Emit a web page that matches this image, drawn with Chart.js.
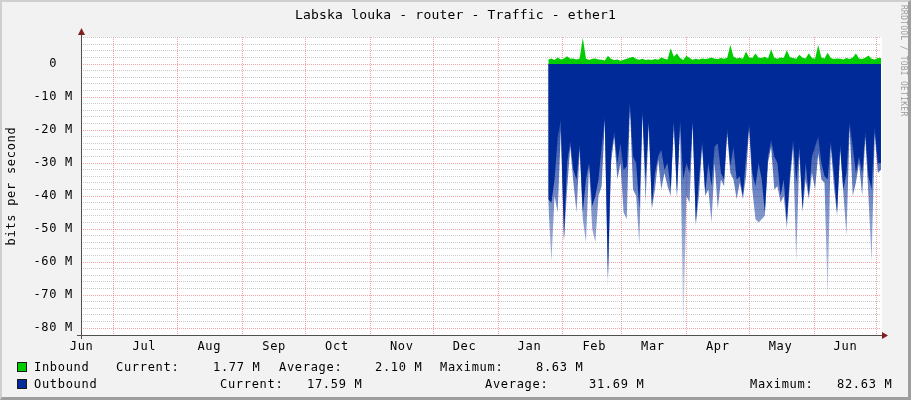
<!DOCTYPE html>
<html>
<head>
<meta charset="utf-8">
<title>Labska louka - router - Traffic - ether1</title>
<script src="https://cdn.jsdelivr.net/npm/chart.js@4.4.0/dist/chart.umd.min.js"></script>
<style>
  html, body { margin: 0; padding: 0; }
  body { width: 911px; height: 400px; position: relative; overflow: hidden; background: #f2f2f2;
         font-family: "DejaVu Sans Mono", monospace; }
  #frame { position: absolute; left: 0; top: 0; width: 911px; height: 400px; box-sizing: border-box;
           border-style: solid; border-width: 2px 3px 3px 2px;
           border-color: #cfcfcf #9e9e9e #9e9e9e #cfcfcf; pointer-events: none; }
  #chart { position: absolute; left: 0; top: 0; }
  .txt { position: absolute; white-space: pre; font-size: 12px; line-height: 14px; letter-spacing: 0.7px; color: #000; }
  .box { position: absolute; left: 17px; width: 8px; height: 8px; border: 1px solid #1a1a1a; }
  #title { left: 0; width: 911px; top: 8px; text-align: center; font-size: 13px; letter-spacing: 0.2px; }
  #ytitle { left: 11px; top: 186px; transform: translate(-50%, -50%) rotate(-90deg); }
  #mark { position: absolute; left: 899px; top: 5px; writing-mode: vertical-rl; font-size: 8px; line-height: 8px;
          letter-spacing: 0.25px; color: #9c9c9c; white-space: pre; }
</style>
</head>
<body>
<canvas id="chart" width="911" height="400"></canvas>
<div id="frame"></div>
<div class="txt" id="title">Labska louka - router - Traffic - ether1</div>
<div class="txt" id="ytitle">bits per second</div>
<div id="mark">RRDTOOL / TOBI OETIKER</div>

<div class="box" style="top:362px;background:#00cc00"></div>
<div class="txt" style="left:34px;top:360px">Inbound</div>
<div class="txt" style="left:116px;top:360px">Current:</div>
<div class="txt" style="left:213px;top:360px">1.77 M</div>
<div class="txt" style="left:279px;top:360px">Average:</div>
<div class="txt" style="left:375px;top:360px">2.10 M</div>
<div class="txt" style="left:440px;top:360px">Maximum:</div>
<div class="txt" style="left:536px;top:360px">8.63 M</div>

<div class="box" style="top:379px;background:#002a97"></div>
<div class="txt" style="left:34px;top:377px">Outbound</div>
<div class="txt" style="left:220px;top:377px">Current:</div>
<div class="txt" style="left:307px;top:377px">17.59 M</div>
<div class="txt" style="left:485px;top:377px">Average:</div>
<div class="txt" style="left:589px;top:377px">31.69 M</div>
<div class="txt" style="left:750px;top:377px">Maximum:</div>
<div class="txt" style="left:837px;top:377px">82.63 M</div>

<script>
// traffic in M bits/s, one sample every 1.5 days, first one on Jan 25
// (x is counted in days after Jul 1)
const sampleStartDay = 208;
const sampleStepDays = 1.5;

const inbound = [
  1.4, 1.7, 1.2, 2.0, 1.4, 1.7, 2.4, 1.6, 1.7, 1.4, 1.7, 8.0, 1.7, 1.2, 1.6, 1.7, 1.4,
  1.3, 1.1, 2.5, 1.5, 1.2, 1.4, 1.0, 1.3, 1.6, 1.9, 2.2, 1.5, 1.3, 1.6, 1.2, 1.4, 1.2,
  1.5, 1.3, 2.0, 1.6, 1.4, 4.8, 2.2, 3.2, 1.8, 1.2, 2.5, 1.8, 1.3, 1.6, 1.4, 1.7, 1.5,
  1.7, 2.0, 1.6, 1.5, 1.8, 1.6, 1.9, 5.8, 2.3, 1.7, 1.9, 1.6, 3.8, 2.0, 1.8, 3.2, 1.9,
  1.8, 2.2, 1.7, 4.5, 1.9, 1.6, 2.0, 1.8, 4.2, 2.1, 1.8, 1.6, 2.8, 1.9, 1.7, 3.3, 1.8,
  1.6, 5.8, 2.0, 1.7, 3.4, 1.8, 1.5, 1.7, 1.6, 1.4, 1.8, 1.5, 2.0, 3.2, 1.7, 1.5, 1.9, 2.6, 1.6, 1.4, 1.8,
  1.8
];

// solid part of the outbound area
const outbound = [
  -41, -42, -35, -22, -17, -53, -30, -23.5, -32, -35, -24.5, -45, -35, -30, -43, -40, -35,
  -25, -16, -65, -27, -20.5, -30, -24, -32, -31, -11.5, -28, -30, -44, -14, -35, -17, -43,
  -33, -28, -26, -32, -30, -38, -17, -39, -17, -35, -30, -33, -17, -48, -35, -23.5, -39,
  -30, -37, -25, -24, -33, -35, -19.5, -31, -25, -35, -34, -40, -28, -18, -33, -37, -30,
  -35, -45, -28, -23, -28, -30, -40, -35, -48, -33, -23, -36, -25, -44, -30, -40, -28,
  -25, -22, -30, -34, -35, -23.5, -33, -45, -24.5, -38, -33, -17.5, -25, -33, -28, -33, -20.5, -34, -38, -19, -30,
  -30
];

// faded peaks below the solid part
const outboundPeak = [
  -42, -60, -40, -45, -20, -54, -38, -25, -36, -45, -26, -47, -54, -31, -50, -54, -40,
  -37, -17, -68, -30, -22, -35, -30, -45, -47, -12, -38, -40, -55, -15, -42, -18, -44,
  -38, -29, -38, -33, -37, -40, -18, -41, -18, -82, -40, -42, -18, -49, -40, -25, -40,
  -38, -48, -30, -44, -35, -37, -21, -33, -35, -41, -36, -41, -34, -19, -38, -47, -48,
  -47, -46, -30, -25, -38, -37, -42, -40, -50, -36, -25, -60, -27, -45, -35, -41, -33,
  -38, -27, -35, -36, -71, -25, -37, -46, -26, -39, -52, -19, -40, -36, -30, -40, -22, -40, -60, -21, -33,
  -32
];

const xLabels = ['Jun', 'Jul', 'Aug', 'Sep', 'Oct', 'Nov', 'Dec', 'Jan', 'Feb', 'Mar', 'Apr', 'May', 'Jun'];
const xLabelDays = [-15, 15, 46, 77, 107, 138, 168, 199, 230, 258, 289, 319, 350];
const monthStartDays = [0, 31, 62, 92, 123, 153, 184, 215, 243, 274, 304, 335, 365];

const yTickValues = [0, -10, -20, -30, -40, -50, -60, -70, -80];
const yTickLabels = ['0  ', '-10 M', '-20 M', '-30 M', '-40 M', '-50 M', '-60 M', '-70 M', '-80 M'];

const xMin = -15.3, xMax = 367.0;
const yMin = -82.1, yMax = 8.2;

function toPoints(arr) {
  return arr.map((v, i) => ({ x: sampleStartDay + i * sampleStepDays, y: v }));
}

function peakFill(c) {
  const chart = c.chart;
  if (!chart.chartArea) return 'rgba(0,42,151,0.5)';
  const y = chart.scales.y;
  const g = chart.ctx.createLinearGradient(0, y.getPixelForValue(-15), 0, y.getPixelForValue(-82));
  g.addColorStop(0, 'rgba(0,42,151,0.85)');
  g.addColorStop(1, 'rgba(0,42,151,0.06)');
  return g;
}

const majorGrid = 'rgba(240,90,90,0.55)';
const minorGrid = 'rgba(150,150,150,0.5)';

const rrdFrame = {
  id: 'rrdFrame',
  beforeDraw(chart) {
    const { ctx, chartArea: a } = chart;
    ctx.save();
    ctx.fillStyle = '#ffffff';
    ctx.fillRect(a.left, a.top, a.right - a.left + 1, a.bottom - a.top);
    ctx.restore();
    ctx.letterSpacing = '0.7px';
  },
  afterDraw(chart) {
    const { ctx, chartArea: a } = chart;
    ctx.save();
    ctx.strokeStyle = '#505050';
    ctx.lineWidth = 1;
    ctx.beginPath();
    ctx.moveTo(a.left + 0.5, a.bottom + 4);
    ctx.lineTo(a.left + 0.5, a.top - 4);
    ctx.moveTo(a.left - 4, a.bottom + 0.5);
    ctx.lineTo(a.right + 2, a.bottom + 0.5);
    ctx.stroke();
    ctx.fillStyle = '#801f1f';
    ctx.beginPath();
    ctx.moveTo(a.left + 0.5, a.top - 9);
    ctx.lineTo(a.left - 3, a.top - 2);
    ctx.lineTo(a.left + 4, a.top - 2);
    ctx.closePath();
    ctx.fill();
    ctx.beginPath();
    ctx.moveTo(a.right + 7, a.bottom + 0.5);
    ctx.lineTo(a.right + 1, a.bottom - 3);
    ctx.lineTo(a.right + 1, a.bottom + 4);
    ctx.closePath();
    ctx.fill();
    ctx.restore();
  }
};

Chart.defaults.font.family = '"DejaVu Sans Mono", monospace';
Chart.defaults.font.size = 12;
Chart.defaults.color = '#000';

const lineStyle = { borderWidth: 0, borderColor: 'rgba(0,0,0,0)', pointRadius: 0, tension: 0, fill: 'origin' };

new Chart(document.getElementById('chart'), {
  type: 'line',
  data: {
    datasets: [
      Object.assign({ label: 'Inbound', data: toPoints(inbound), backgroundColor: '#00cc00' }, lineStyle),
      Object.assign({ label: 'Outbound', data: toPoints(outbound), backgroundColor: '#002a97' }, lineStyle),
      Object.assign({ label: 'Outbound peaks', data: toPoints(outboundPeak), backgroundColor: peakFill }, lineStyle)
    ]
  },
  options: {
    responsive: false,
    animation: false,
    devicePixelRatio: 1,
    layout: { padding: { left: 0, right: 30, top: 37, bottom: 0 } },
    plugins: { legend: { display: false }, tooltip: { enabled: false }, title: { display: false } },
    scales: {
      x: {
        type: 'linear',
        min: xMin,
        max: xMax,
        z: 1,
        afterBuildTicks(s) {
          s.ticks = monthStartDays.concat(xLabelDays).map(v => ({ value: v }));
        },
        afterFit(s) { s.height = 65; },
        grid: {
          drawTicks: false,
          lineWidth: 1,
          color: c => (c.tick && monthStartDays.includes(c.tick.value)) ? majorGrid : 'rgba(0,0,0,0)'
        },
        border: { display: false, dash: [1, 1] },
        ticks: {
          autoSkip: false,
          maxRotation: 0,
          minRotation: 0,
          padding: 5,
          callback: v => {
            const k = xLabelDays.indexOf(v);
            return k >= 0 ? xLabels[k] : '';
          }
        }
      },
      y: {
        type: 'linear',
        min: yMin,
        max: yMax,
        z: 1,
        afterBuildTicks(s) {
          const t = [];
          for (let v = -80; v <= 8; v += 2) t.push({ value: v });
          s.ticks = t;
        },
        afterFit(s) { s.width = 81; },
        grid: {
          drawTicks: false,
          lineWidth: 1,
          color: c => (c.tick && c.tick.value % 10 === 0) ? majorGrid : minorGrid
        },
        border: { display: false, dash: [1, 1] },
        ticks: {
          autoSkip: false,
          padding: 8,
          callback: v => {
            const k = yTickValues.indexOf(v);
            return k >= 0 ? yTickLabels[k] : '';
          }
        }
      }
    }
  },
  plugins: [rrdFrame]
});
</script>
</body>
</html>
